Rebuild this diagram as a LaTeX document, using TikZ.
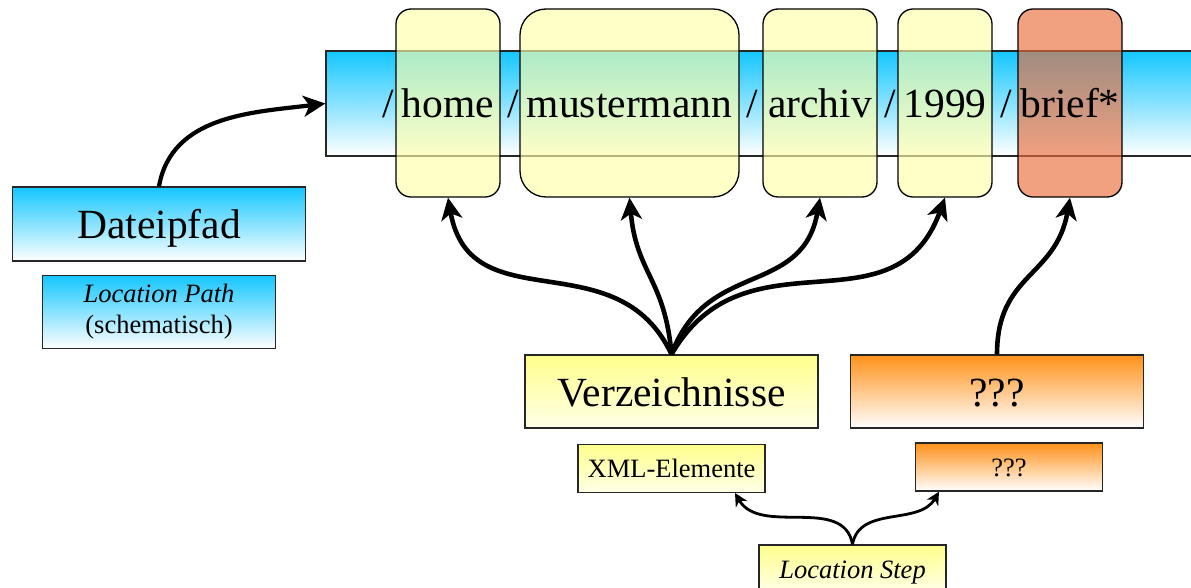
\documentclass[tikz,border=0pt]{standalone}
\usepackage{fontspec}
\setmainfont{Liberation Serif}
\usepackage{xcolor}
\usepackage{tikz}
\usetikzlibrary{positioning}
\usetikzlibrary{arrows.meta}
\definecolor{skyblue}{RGB}{20,198,255}
\definecolor{paleyellow}{RGB}{255,255,170}
\definecolor{topyellow}{RGB}{255,255,140}
\definecolor{lowyellow}{RGB}{255,255,232}
\definecolor{toporange}{RGB}{255,145,25}
\definecolor{briefred}{RGB}{235,110,60}
\tikzset{x=1pt,y=1pt,
    bigtext/.style={font=\fontsize{41.5}{48}\selectfont,text height=29pt,text depth=0pt},
    smalltext/.style={font=\fontsize{26.5}{31}\selectfont,text height=18.5pt,text depth=0pt},
    box/.style={draw=black!85,line width=1.3pt,inner sep=0pt},
    bluebox/.style={box,top color=skyblue,bottom color=white},
    yellowbox/.style={box,top color=topyellow,bottom color=lowyellow},
    orangebox/.style={box,top color=toporange,bottom color=white},
    part/.style={draw,line width=1.3pt,rounded corners=15pt,fill=paleyellow,
        fill opacity=0.65,text opacity=1,minimum height=188pt,inner sep=0pt,bigtext},
    slash/.style={anchor=base,inner sep=0pt,font=\fontsize{41.5}{48}\selectfont},
    bigarrow/.style={line width=4.6pt,-{Stealth[length=22pt,width=21pt,inset=6pt]}},
    smallarrow/.style={line width=2.8pt,-{Stealth[length=13pt,width=13pt,inset=4pt]}}}

\begin{document}
\begin{tikzpicture}
\useasboundingbox (0,0) rectangle (1191,587);
\clip (0,0) rectangle (1191,587);
\node[bluebox,minimum width=885pt,minimum height=105pt] (pfadbar) at (768.5,483.5) {};
\node[part,minimum width=104pt] (home) at (448,484) {home};
\node[part,minimum width=219pt,rounded corners=26pt] (muster) at (629.5,484) {mustermann};
\node[part,minimum width=114pt] (archiv) at (820,484) {archiv};
\node[part,minimum width=94pt] (jahr) at (945,484) {1999};
\node[part,minimum width=104pt,fill=briefred] (brief) at (1070,484) {brief*};
\foreach \xs [count=\i] in {388,513,752.5,890,1006}
    \node[slash] (slash\i) at (\xs,469) {/};

\node[bluebox,bigtext,minimum width=293pt,minimum height=74pt] (datei) at (159,363) {Dateipfad};
\node[bluebox,font=\fontsize{26.5}{31}\selectfont,align=center,minimum width=233pt,
    minimum height=73pt,below=13pt of datei] (lpath) {\textit{Location Path}\\(schematisch)};

\node[yellowbox,bigtext,minimum width=293pt,minimum height=73pt] (verz) at (671.5,195.5) {Verzeichnisse};
\node[orangebox,bigtext,minimum width=293pt,minimum height=73pt] (qbig) at (997,195.5) {???};
\node[yellowbox,smalltext,minimum width=187pt,minimum height=48pt,below=15pt of verz] (xml) {XML-Elemente};
\node[orangebox,smalltext,minimum width=187pt,minimum height=48pt] (qsmall) at (1009,120) {???};
\node[yellowbox,smalltext,minimum width=187pt,minimum height=48pt] (lstep) at (852.5,18) {\textit{Location Step}};

\draw[bigarrow,line width=4.2pt] (datei.north) to[out=80,in=187] (pfadbar.west);
\foreach \ziel/\a/\b in {home/115/-80,muster/95/-85,archiv/70/-100,jahr/60/-110}
    \draw[bigarrow] (verz.north) to[out=\a,in=\b,looseness=1.2] (\ziel.south);
\draw[bigarrow] (qbig.north) to[out=90,in=-100,looseness=1.2] (brief.south);
\draw[smallarrow] (lstep.north) to[out=100,in=-60] ([xshift=63.5pt]xml.south);
\draw[smallarrow] (lstep.north) to[out=80,in=-120] ([xshift=-70pt]qsmall.south);
\end{tikzpicture}
\end{document}
